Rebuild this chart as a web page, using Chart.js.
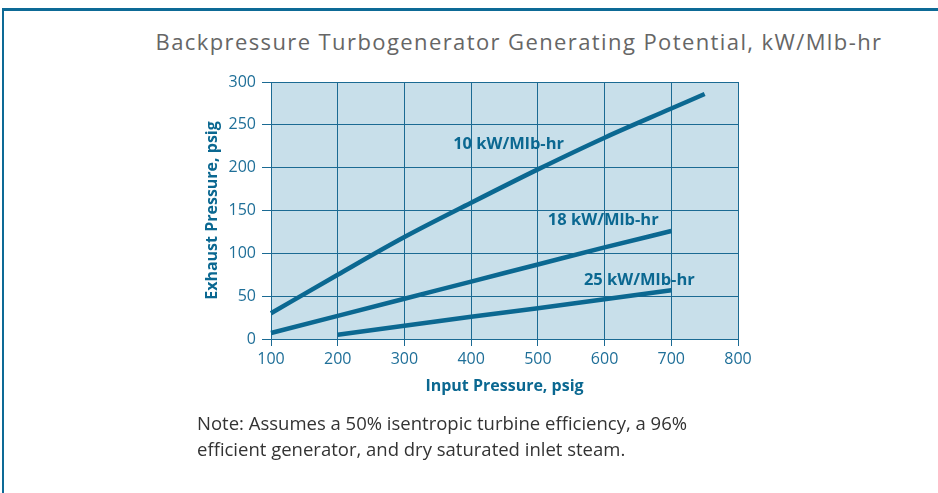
<!DOCTYPE html>
<html>
<head>
<meta charset="utf-8">
<script src="https://cdn.jsdelivr.net/npm/chart.js@4"></script>
<style>
  body { margin: 0; background: #fff; }
  #wrap { position: relative; width: 938px; height: 493px; overflow: hidden; }
  #frame { position: absolute; left: 2px; top: 8px; right: -10px; bottom: -10px;
           border-left: 2px solid #0d6a96; border-top: 3px solid #0d6a96; }
  #title { position: absolute; left: 0; width: 1038px; top: 26px; text-align: center;
           font: 22px "Open Sans", sans-serif; letter-spacing: 1.4px; color: #666; }
  #note { position: absolute; left: 197px; top: 410px; font: 18.5px "Open Sans", sans-serif;
          color: #333; line-height: 26px; }
  canvas { position: absolute; left: 0; top: 0; }
</style>
</head>
<body>
<div id="wrap">
  <div id="frame"></div>
  <div id="title">Backpressure Turbogenerator Generating Potential, kW/Mlb-hr</div>
  <canvas id="lineChart" width="938" height="493"></canvas>
  <div id="note">Note: Assumes a 50% isentropic turbine efficiency, a 96%<br>efficient generator, and dry saturated inlet steam.</div>
</div>
<script>
// values
const input10 = [100, 200, 300, 400, 500, 600, 700, 750];
const exhaust10 = [30, 75, 119, 159, 198, 235, 269, 286];
const input18 = [100, 200, 300, 400, 500, 600, 700];
const exhaust18 = [7, 27, 47, 67, 87, 107, 126];
const input25 = [200, 300, 400, 500, 600, 700];
const exhaust25 = [5, 15.5, 26, 36, 46.5, 57];

const seriesNames = ['10 kW/Mlb-hr', '18 kW/Mlb-hr', '25 kW/Mlb-hr'];
// where each curve label sits, in axis units (left edge, middle)
const labelX = [373, 515, 569];
const labelY = [227, 138, 69];

const blue = '#0b6891';
const gridBlue = '#1b6a93';

function pts(xs, ys) {
    return xs.map((x, i) => ({ x: x, y: ys[i] }));
}

const plotBg = {
    id: 'plotBg',
    beforeDraw(chart) {
        const a = chart.chartArea;
        const c = chart.ctx;
        c.save();
        c.fillStyle = '#c8dfea';
        c.fillRect(a.left, a.top, a.right - a.left, a.bottom - a.top);
        c.restore();
    }
};

const curveLabels = {
    id: 'curveLabels',
    afterDatasetsDraw(chart) {
        const c = chart.ctx;
        const xs = chart.scales.x, ys = chart.scales.y;
        c.save();
        c.font = 'bold 16.5px "Open Sans", sans-serif';
        c.fillStyle = blue;
        c.textBaseline = 'middle';
        seriesNames.forEach((name, i) => {
            c.fillText(name, xs.getPixelForValue(labelX[i]), ys.getPixelForValue(labelY[i]));
        });
        c.restore();
    }
};

const ds = (name, xs, ys) => ({
    label: name,
    data: pts(xs, ys),
    borderColor: blue,
    borderWidth: 4.5,
    pointRadius: 0,
    cubicInterpolationMode: 'monotone',
    fill: false,
    clip: false
});

const ctx = document.getElementById('lineChart').getContext('2d');
const myChart = new Chart(ctx, {
    type: 'line',
    data: {
        datasets: [
            ds(seriesNames[0], input10, exhaust10),
            ds(seriesNames[1], input18, exhaust18),
            ds(seriesNames[2], input25, exhaust25)
        ]
    },
    options: {
        responsive: false,
        animation: false,
        layout: { padding: { left: 199, top: 82, right: 200, bottom: 95 } },
        plugins: { legend: { display: false }, tooltip: { enabled: false } },
        scales: {
            x: {
                type: 'linear',
                min: 100, max: 800,
                afterFit(s) { s.height = 59; },
                ticks: { stepSize: 100, color: '#1f6f98', padding: 4,
                         font: { family: 'Open Sans', size: 16 } },
                grid: { color: gridBlue, lineWidth: 1, tickLength: 7 },
                border: { color: gridBlue, width: 1 },
                title: { display: true, text: 'Input Pressure, psig', color: blue,
                         font: { family: 'Open Sans', size: 16, weight: 'bold' }, padding: 2 }
            },
            y: {
                min: 0, max: 300,
                afterFit(s) { s.width = 72; },
                ticks: { stepSize: 50, color: '#1f6f98', padding: 6,
                         font: { family: 'Open Sans', size: 16 } },
                grid: { color: gridBlue, lineWidth: 1, tickLength: 9 },
                border: { color: gridBlue, width: 1 },
                title: { display: true, text: 'Exhaust Pressure, psig', color: blue,
                         font: { family: 'Open Sans', size: 16, weight: 'bold' }, padding: 4 }
            }
        }
    },
    plugins: [plotBg, curveLabels]
});
</script>
</body>
</html>
